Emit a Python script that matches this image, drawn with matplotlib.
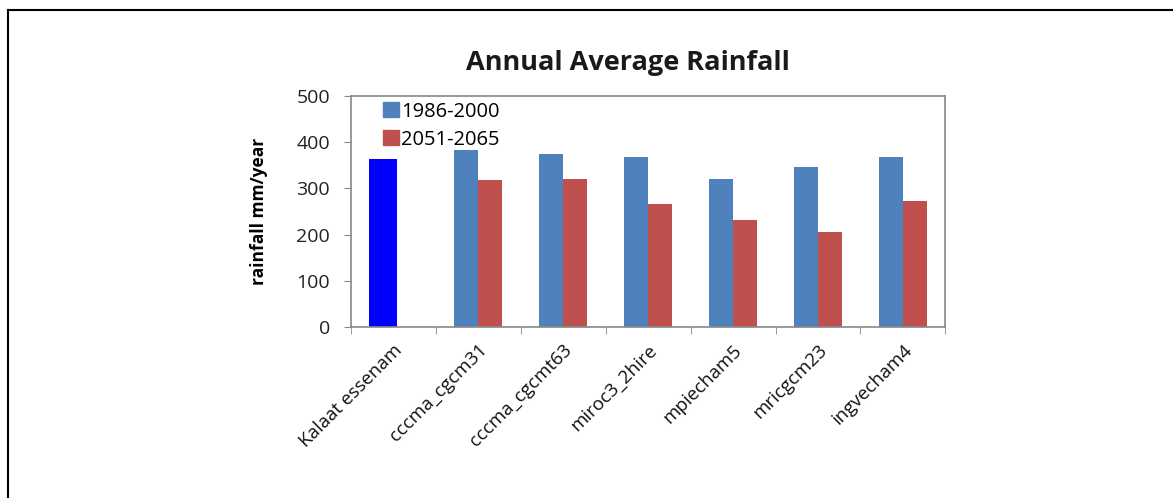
import numpy as np
import matplotlib.pyplot as plt
from matplotlib.lines import Line2D
from matplotlib.patches import Patch

plt.rcParams['font.family'] = ['Open Sans', 'DejaVu Sans']

# datos
modelos = ['Kalaat essenam', 'cccma_cgcm31', 'cccma_cgcmt63', 'miroc3_2hire',
           'mpiecham5', 'mricgcm23', 'ingvecham4']
observado = [363]
lluvia_1986_2000 = [382, 374, 368, 321, 347, 367]
lluvia_2051_2065 = [318, 320, 266, 232, 206, 273]

azul = '#4F81BD'
rojo = '#C0504D'

fig = plt.figure(figsize=(11.73, 4.98), dpi=100)
ax = fig.add_axes([0.299, 0.3434, 0.507, 0.4639])

x = np.arange(len(modelos))
w = 0.283

# estacion observada
ax.bar(x[0] - 0.12, observado, width=0.32, color='#0000FF')
ax.bar(x[1:] - w / 2, lluvia_1986_2000, width=w, color=azul)
ax.bar(x[1:] + w / 2, lluvia_2051_2065, width=w, color=rojo)

ax.set_xlim(-0.5, len(modelos) - 0.5)
ax.set_ylim(0, 500)
ax.set_yticks([0, 100, 200, 300, 400, 500])
ax.tick_params(axis='y', direction='out', length=5, color='#888888',
               labelsize=14, labelcolor='#222222', pad=10)

ax.set_xticks(x)
ax.set_xticklabels(modelos, rotation=45, ha='right', rotation_mode='anchor',
                   fontsize=13.5, color='#111111')
ax.tick_params(axis='x', which='major', length=0, pad=10)
ax.set_xticks(np.arange(-0.5, len(modelos), 1), minor=True)
ax.tick_params(axis='x', which='minor', direction='out', length=5, color='#888888')

for s in ax.spines.values():
    s.set_color('#888888')
    s.set_linewidth(1.2)

ax.set_ylabel('rainfall mm/year', fontsize=12.5, fontweight='bold', labelpad=20)

handles = [Patch(color=azul), Patch(color=rojo)]
ax.legend(handles, ['1986-2000', '2051-2065'], loc='upper left',
          bbox_to_anchor=(0.04, 1.01), frameon=False, fontsize=14.5,
          handlelength=0.8, handleheight=0.8, handletextpad=0.1,
          labelspacing=0.4, borderaxespad=0)

fig.text(0.535, 0.873, 'Annual Average Rainfall', ha='center', va='center',
         fontsize=19.5, fontweight='bold', color='#1a1a1a')

# marco exterior
fig.add_artist(Line2D([8 / 1173, 8 / 1173], [0, 1 - 10 / 498], color='black', lw=1.5))
fig.add_artist(Line2D([8 / 1173, 1], [1 - 10 / 498, 1 - 10 / 498], color='black', lw=1.5))

fig.savefig('out.png', dpi=100)
